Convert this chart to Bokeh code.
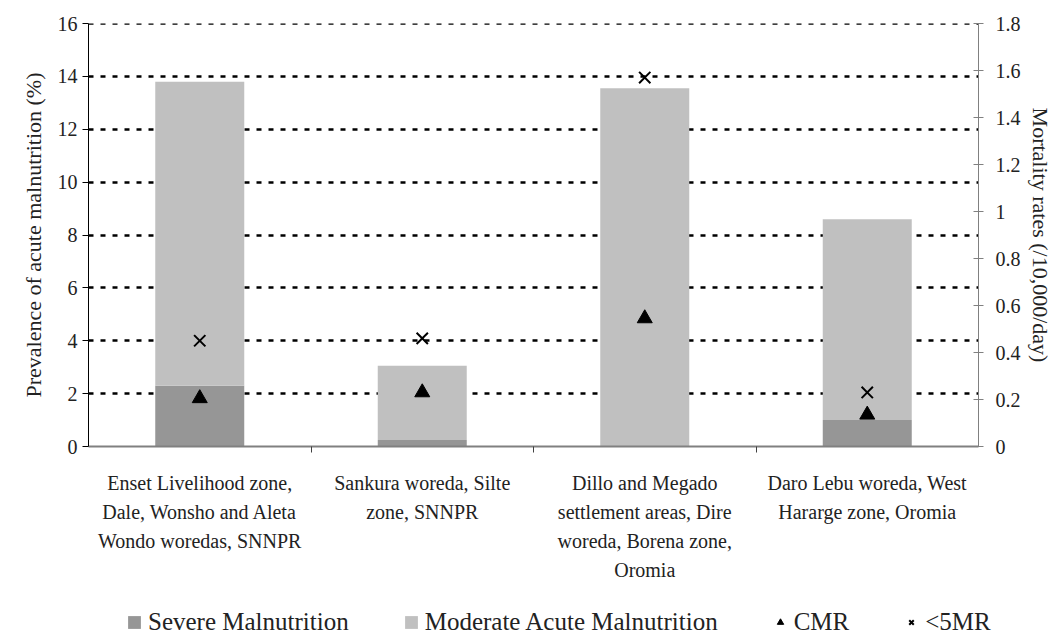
from bokeh.plotting import figure
from bokeh.layouts import column
from bokeh.models import (Range1d, LinearAxis, FixedTicker, CustomJSTickFormatter,
                          Legend, LegendItem, ColumnDataSource, Span)
from bokeh.embed import file_html
from bokeh.resources import INLINE

# ---- data ----
sites = [
    "Enset Livelihood zone,\nDale, Wonsho and Aleta\nWondo woredas, SNNPR",
    "Sankura woreda, Silte\nzone, SNNPR",
    "Dillo and Megado\nsettlement areas, Dire\nworeda, Borena zone,\nOromia",
    "Daro Lebu woreda, West\nHararge zone, Oromia",
]
severe = [2.3, 0.25, 0.0, 1.0]
moderate = [11.5, 2.8, 13.55, 7.6]
cmr = [0.205, 0.23, 0.545, 0.135]
u5mr = [0.45, 0.46, 1.57, 0.23]
left_ticks = [0, 2, 4, 6, 8, 10, 12, 14, 16]
right_ticks = [0, 0.2, 0.4, 0.6, 0.8, 1.0, 1.2, 1.4, 1.6, 1.8]
series_names = ["Severe Malnutrition", "Moderate Acute Malnutrition", "CMR", "<5MR"]

FONT = "'Liberation Serif', serif"
SEV = "#969696"
MOD = "#c0c0c0"
TXT = "#222222"

xs = [i + 0.5 for i in range(len(sites))]
src = ColumnDataSource(dict(x=xs, severe=severe, moderate=moderate, cmr=cmr, u5mr=u5mr))

p = figure(width=1064, height=594, output_backend="svg", toolbar_location=None,
           x_range=Range1d(0, len(sites)), y_range=Range1d(0, left_ticks[-1]),
           min_border_left=88, min_border_right=86, min_border_top=23, min_border_bottom=148)
p.outline_line_color = None
p.extra_y_ranges = {"mort": Range1d(0, right_ticks[-1])}

# grid
p.xgrid.grid_line_color = None
p.ygrid.ticker = FixedTicker(ticks=left_ticks)
p.ygrid.grid_line_color = "black"
p.ygrid.grid_line_dash = "5 7"
p.ygrid.grid_line_width = 2.5
p.add_layout(Span(location=left_ticks[-1], dimension="width", line_color="black",
                  line_dash="5 7", line_width=2.5, level="underlay"))

# bars
bars = p.vbar_stack(["severe", "moderate"], x="x", width=0.4, source=src,
                    color=[SEV, MOD], line_color=None)

# markers
tri = p.scatter("x", "cmr", source=src, marker="triangle", size=15,
                fill_color="black", line_color="black", y_range_name="mort")
crs = p.scatter("x", "u5mr", source=src, marker="x", size=16,
                line_color="black", line_width=2, y_range_name="mort")

# left axis
ya = p.yaxis[0]
ya.ticker = FixedTicker(ticks=left_ticks)
ya.axis_label = "Prevalence of acute malnutrition (%)"
ya.axis_line_color = "black"
ya.major_tick_line_color = "black"
ya.major_tick_out = 6
ya.major_tick_in = 0
ya.minor_tick_line_color = None
ya.major_label_text_font = FONT
ya.major_label_text_font_size = "20px"
ya.major_label_text_color = TXT
ya.major_label_standoff = 5
ya.axis_label_text_font = FONT
ya.axis_label_text_font_size = "22px"
ya.axis_label_text_font_style = "normal"
ya.axis_label_text_color = TXT
ya.axis_label_standoff = 9

# right axis
ra = LinearAxis(y_range_name="mort", ticker=FixedTicker(ticks=right_ticks),
                axis_label="Mortality rates (/10,000/day)")
ra.formatter = CustomJSTickFormatter(code="return (Math.round(tick*10)/10).toString();")
ra.axis_line_color = "#808080"
ra.major_tick_line_color = "#808080"
ra.major_tick_in = 5
ra.major_tick_out = 5
ra.minor_tick_line_color = None
ra.major_label_text_font = FONT
ra.major_label_text_font_size = "20px"
ra.major_label_text_color = TXT
ra.major_label_standoff = 12
ra.axis_label_text_font = FONT
ra.axis_label_text_font_size = "22px"
ra.axis_label_text_font_style = "normal"
ra.axis_label_text_color = TXT
ra.axis_label_standoff = 4
p.add_layout(ra, "right")

# bottom axis
xa = p.xaxis[0]
xa.ticker = FixedTicker(ticks=xs, minor_ticks=[1, 2, 3])
xa.formatter = CustomJSTickFormatter(args=dict(labels=sites),
                                     code="return labels[Math.floor(tick)];")
xa.axis_line_color = "#808080"
xa.axis_line_width = 2
xa.major_tick_line_color = None
xa.minor_tick_line_color = "#404040"
xa.minor_tick_out = 6
xa.minor_tick_in = 0
xa.major_label_text_font = FONT
xa.major_label_text_font_size = "20px"
xa.major_label_text_color = TXT
xa.major_label_text_line_height = 1.32
xa.major_label_standoff = 19

# legend strip (separate small figure, legend swatches from same data)
lf = figure(width=1064, height=45, output_backend="svg", toolbar_location=None,
            x_range=Range1d(100, 101), y_range=Range1d(100, 101),
            x_axis_type=None, y_axis_type=None,
            min_border_left=0, min_border_right=0, min_border_top=0, min_border_bottom=0)
lf.frame_align = False
lf.outline_line_color = None
lf.grid.visible = False
lb = lf.vbar_stack(["severe", "moderate"], x="x", width=0.4, source=src,
                   color=[SEV, MOD], line_color=None)
lt = lf.scatter("x", "cmr", source=src, marker="triangle", size=15,
                fill_color="black", line_color="black")
lc = lf.scatter("x", "u5mr", source=src, marker="x", size=14,
                line_color="black", line_width=2)

legend = Legend(items=[
    LegendItem(label=series_names[0], renderers=[lb[0]]),
    LegendItem(label=series_names[1], renderers=[lb[1]]),
    LegendItem(label=series_names[2], renderers=[lt]),
    LegendItem(label=series_names[3], renderers=[lc]),
], orientation="horizontal", location=(126, 3))
legend.label_text_font = FONT
legend.label_text_font_size = "25px"
legend.label_text_color = TXT
legend.glyph_width = 16
legend.glyph_height = 16
legend.label_standoff = 6
legend.spacing = 54
legend.padding = 0
legend.border_line_color = None
legend.background_fill_alpha = 0
legend.margin = 0
lf.add_layout(legend, "center")

layout = column(p, lf, spacing=0)
open("out.html", "w").write(file_html(layout, INLINE))
